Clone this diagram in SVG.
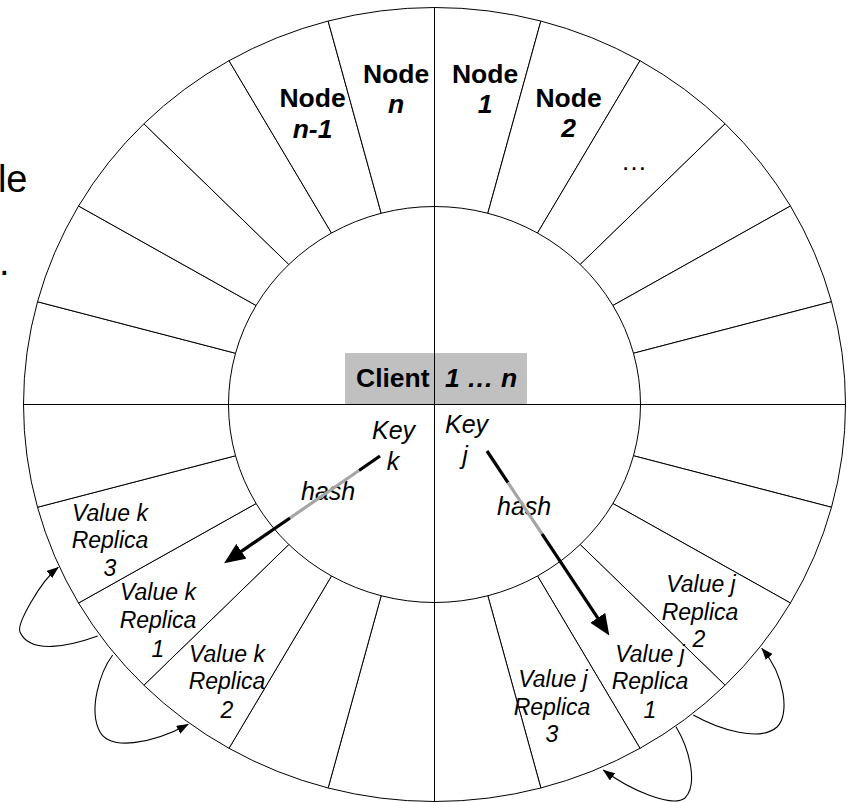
<svg xmlns="http://www.w3.org/2000/svg" width="850" height="802" viewBox="0 0 850 802">
<style>
.seg{fill:#fff;stroke:#000;stroke-width:1}
.ln{fill:none;stroke:#000;stroke-width:1}
.nd{font-family:"Liberation Sans",Arial,sans-serif;font-size:26.5px;font-weight:bold;text-anchor:middle;fill:#000}
.st{text-anchor:start}
.it{font-style:italic}
.rg{font-weight:normal}
.val{font-family:"Liberation Sans",Arial,sans-serif;font-size:23px;font-style:italic;text-anchor:middle;fill:#000}
.key{font-family:"Liberation Sans",Arial,sans-serif;font-size:25px;font-style:italic;fill:#000}
.mid{text-anchor:middle}
.big{font-family:"Liberation Sans",Arial,sans-serif;font-size:38px;fill:#000}
.hb{fill:none;stroke:#000;stroke-width:3.2}
.hg{fill:none;stroke:#a6a6a6;stroke-width:3.2}
.loop{fill:none;stroke:#000;stroke-width:1.1}
</style>
<defs>
<marker id="ah" markerUnits="userSpaceOnUse" viewBox="0 0 21 18" markerWidth="21" markerHeight="18" refX="0.5" refY="9" orient="auto">
<path d="M0 0 L21 9 L0 18 Z" fill="#000"/>
</marker>
<marker id="sa" markerUnits="userSpaceOnUse" viewBox="0 0 12 9" markerWidth="12" markerHeight="9" refX="11.5" refY="4.5" orient="auto">
<path d="M0 0 L12 4.5 L0 9 Z" fill="#000"/>
</marker>
</defs>
<rect width="850" height="802" fill="#fff"/>
<text class="big" x="27.5" y="192" text-anchor="end">le</text>
<text class="big" x="-1" y="275">.</text>
<g id="ring" transform="translate(0.5 0.5)">
<g id="node-1"><path class="seg" d="M434 7 A411 397 0 0 1 540.37 20.53 L487.32 212.75 A206 198 0 0 0 434 206 Z"/></g>
<g id="node-2"><path class="seg" d="M540.37 20.53 A411 397 0 0 1 639.5 60.19 L537 232.53 A206 198 0 0 0 487.32 212.75 Z"/></g>
<g id="node-more"><path class="seg" d="M639.5 60.19 A411 397 0 0 1 724.62 123.28 L579.66 263.99 A206 198 0 0 0 537 232.53 Z"/></g>
<g id="seg-03"><path class="seg" d="M724.62 123.28 A411 397 0 0 1 789.94 205.5 L612.4 305 A206 198 0 0 0 579.66 263.99 Z"/></g>
<g id="seg-04"><path class="seg" d="M789.94 205.5 A411 397 0 0 1 831 301.25 L632.98 352.75 A206 198 0 0 0 612.4 305 Z"/></g>
<g id="seg-05"><path class="seg" d="M831 301.25 A411 397 0 0 1 845 404 L640 404 A206 198 0 0 0 632.98 352.75 Z"/></g>
<g id="seg-06"><path class="seg" d="M845 404 A411 397 0 0 1 831 506.75 L632.98 455.25 A206 198 0 0 0 640 404 Z"/></g>
<g id="seg-07"><path class="seg" d="M831 506.75 A411 397 0 0 1 789.94 602.5 L612.4 503 A206 198 0 0 0 632.98 455.25 Z"/></g>
<g id="value-j-replica-2"><path class="seg" d="M789.94 602.5 A411 397 0 0 1 724.62 684.72 L579.66 544.01 A206 198 0 0 0 612.4 503 Z"/></g>
<g id="value-j-replica-1"><path class="seg" d="M724.62 684.72 A411 397 0 0 1 639.5 747.81 L537 575.47 A206 198 0 0 0 579.66 544.01 Z"/></g>
<g id="value-j-replica-3"><path class="seg" d="M639.5 747.81 A411 397 0 0 1 540.37 787.47 L487.32 595.25 A206 198 0 0 0 537 575.47 Z"/></g>
<g id="seg-11"><path class="seg" d="M540.37 787.47 A411 397 0 0 1 434 801 L434 602 A206 198 0 0 0 487.32 595.25 Z"/></g>
<g id="seg-12"><path class="seg" d="M434 801 A411 397 0 0 1 327.63 787.47 L380.68 595.25 A206 198 0 0 0 434 602 Z"/></g>
<g id="seg-13"><path class="seg" d="M327.63 787.47 A411 397 0 0 1 228.5 747.81 L331 575.47 A206 198 0 0 0 380.68 595.25 Z"/></g>
<g id="value-k-replica-2"><path class="seg" d="M228.5 747.81 A411 397 0 0 1 143.38 684.72 L288.34 544.01 A206 198 0 0 0 331 575.47 Z"/></g>
<g id="value-k-replica-1"><path class="seg" d="M143.38 684.72 A411 397 0 0 1 78.06 602.5 L255.6 503 A206 198 0 0 0 288.34 544.01 Z"/></g>
<g id="value-k-replica-3"><path class="seg" d="M78.06 602.5 A411 397 0 0 1 37 506.75 L235.02 455.25 A206 198 0 0 0 255.6 503 Z"/></g>
<g id="seg-17"><path class="seg" d="M37 506.75 A411 397 0 0 1 23 404 L228 404 A206 198 0 0 0 235.02 455.25 Z"/></g>
<g id="seg-18"><path class="seg" d="M23 404 A411 397 0 0 1 37 301.25 L235.02 352.75 A206 198 0 0 0 228 404 Z"/></g>
<g id="seg-19"><path class="seg" d="M37 301.25 A411 397 0 0 1 78.06 205.5 L255.6 305 A206 198 0 0 0 235.02 352.75 Z"/></g>
<g id="seg-20"><path class="seg" d="M78.06 205.5 A411 397 0 0 1 143.38 123.28 L288.34 263.99 A206 198 0 0 0 255.6 305 Z"/></g>
<g id="seg-21"><path class="seg" d="M143.38 123.28 A411 397 0 0 1 228.5 60.19 L331 232.53 A206 198 0 0 0 288.34 263.99 Z"/></g>
<g id="node-n-1"><path class="seg" d="M228.5 60.19 A411 397 0 0 1 327.63 20.53 L380.68 212.75 A206 198 0 0 0 331 232.53 Z"/></g>
<g id="node-n"><path class="seg" d="M327.63 20.53 A411 397 0 0 1 434 7 L434 206 A206 198 0 0 0 380.68 212.75 Z"/></g>
</g>
<g id="client">
<rect x="345" y="353" width="182" height="52" fill="#c0c0c0"/>
</g>
<g id="axes" transform="translate(0.5 0.5)">
<line class="ln" x1="434" y1="7" x2="434" y2="801"/>
<line class="ln" x1="23" y1="404" x2="845" y2="404"/>
</g>
<g id="labels">
<text class="nd" x="312.5" y="107">Node</text>
<text class="nd it" x="312.5" y="138">n-1</text>
<text class="nd" x="396" y="83">Node</text>
<text class="nd it" x="396" y="113">n</text>
<text class="nd" x="485" y="83">Node</text>
<text class="nd it" x="485" y="113">1</text>
<text class="nd" x="568.5" y="107">Node</text>
<text class="nd it" x="568.5" y="137">2</text>
<text class="nd rg" x="634" y="170">…</text>
<text class="nd st" x="356" y="387">Client</text>
<text class="nd it st" x="445" y="387">1 … n</text>
<text class="key mid" x="393.5" y="439">Key</text>
<text class="key mid" x="393" y="470">k</text>
<text class="key mid" x="466.5" y="433">Key</text>
<text class="key mid" x="465" y="464">j</text>
<text class="key" x="301" y="500">hash</text>
<text class="key" x="497" y="515">hash</text>
<text class="val" x="110" y="521">Value k</text>
<text class="val" x="110" y="548">Replica</text>
<text class="val" x="110" y="576">3</text>
<text class="val" x="158" y="600">Value k</text>
<text class="val" x="158" y="628">Replica</text>
<text class="val" x="158" y="657">1</text>
<text class="val" x="227" y="662">Value k</text>
<text class="val" x="227" y="689">Replica</text>
<text class="val" x="227" y="718">2</text>
<text class="val" x="701" y="592">Value j</text>
<text class="val" x="700" y="620">Replica</text>
<text class="val" x="699" y="647">2</text>
<text class="val" x="650" y="662">Value j</text>
<text class="val" x="650" y="689">Replica</text>
<text class="val" x="650" y="718">1</text>
<text class="val" x="553" y="687">Value j</text>
<text class="val" x="552" y="715">Replica</text>
<text class="val" x="552" y="742">3</text>
</g>
<g id="connectors">
<line class="hb" x1="380" y1="456" x2="359" y2="470.5"/>
<line class="hg" x1="359" y1="470.5" x2="290" y2="518"/>
<line class="hb" x1="290" y1="518" x2="241" y2="551.6" marker-end="url(#ah)"/>
<line class="hb" x1="487" y1="451" x2="508" y2="482.7"/>
<line class="hg" x1="508" y1="482.7" x2="542" y2="533.9"/>
<line class="hb" x1="542" y1="533.9" x2="598" y2="618.3" marker-end="url(#ah)"/>
<path class="loop" d="M97.7 636 C70 646 30 655 20 632 C16.5 624 40 582 58.3 567.3" marker-end="url(#sa)"/>
<path class="loop" d="M112.7 655 C100 672 88 710 100 732 C110 750 150 745 188.3 724.3" marker-end="url(#sa)"/>
<path class="loop" d="M693.3 715 C720 730 760 742 777 727 C790 715 785 675 761.7 648.3" marker-end="url(#sa)"/>
<path class="loop" d="M676 726.7 C690 750 698 785 685 798 C672 808 630 790 603.3 770" marker-end="url(#sa)"/>
</g>
</svg>
